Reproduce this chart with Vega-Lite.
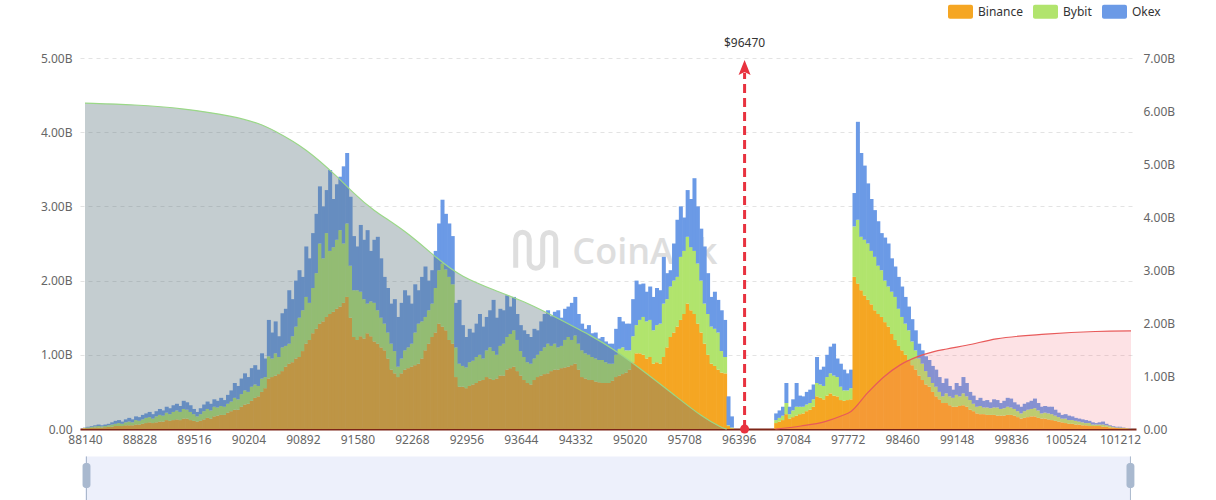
{
"$schema":"https://vega.github.io/schema/vega-lite/v6.json",
"width":1056,"height":371,"autosize":"none",
"padding":{"left":80,"top":58,"right":80,"bottom":71},
"background":"white",
"config":{"view":{"stroke":null},"font":"Noto Sans","axis":{"labelFont":"Noto Sans","labelFontSize":12,"labelColor":"#666"}},
"data":{"values":[{}]},
"datasets":{
"bars":[
{"p":88140,"a":0.01,"b":0.005,"c":0.005},{"p":88183,"a":0.01,"b":0.01,"c":0.01},{"p":88226,"a":0.015,"b":0.015,"c":0.01},{"p":88269,"a":0.02,"b":0.015,"c":0.015},{"p":88312,"a":0.02,"b":0.02,"c":0.02},{"p":88355,"a":0.02,"b":0.015,"c":0.015},{"p":88398,"a":0.025,"b":0.015,"c":0.02},{"p":88441,"a":0.03,"b":0.02,"c":0.02},{"p":88484,"a":0.03,"b":0.03,"c":0.03},{"p":88527,"a":0.04,"b":0.03,"c":0.04},
{"p":88570,"a":0.04,"b":0.04,"c":0.04},{"p":88613,"a":0.04,"b":0.03,"c":0.03},{"p":88656,"a":0.05,"b":0.04,"c":0.04},{"p":88699,"a":0.05,"b":0.05,"c":0.05},{"p":88742,"a":0.05,"b":0.04,"c":0.04},{"p":88785,"a":0.06,"b":0.06,"c":0.05},{"p":88828,"a":0.06,"b":0.05,"c":0.05},{"p":88871,"a":0.07,"b":0.06,"c":0.06},{"p":88914,"a":0.08,"b":0.07,"c":0.06},{"p":88957,"a":0.09,"b":0.07,"c":0.07},
{"p":89000,"a":0.08,"b":0.06,"c":0.06},{"p":89043,"a":0.09,"b":0.08,"c":0.07},{"p":89086,"a":0.10,"b":0.09,"c":0.08},{"p":89129,"a":0.10,"b":0.08,"c":0.07},{"p":89172,"a":0.12,"b":0.10,"c":0.08},{"p":89215,"a":0.11,"b":0.09,"c":0.08},{"p":89258,"a":0.12,"b":0.11,"c":0.09},{"p":89301,"a":0.13,"b":0.12,"c":0.09},{"p":89344,"a":0.12,"b":0.11,"c":0.08},{"p":89387,"a":0.14,"b":0.13,"c":0.11},
{"p":89430,"a":0.14,"b":0.12,"c":0.10},{"p":89473,"a":0.12,"b":0.11,"c":0.09},{"p":89516,"a":0.11,"b":0.09,"c":0.07},{"p":89559,"a":0.10,"b":0.07,"c":0.06},{"p":89602,"a":0.11,"b":0.09,"c":0.08},{"p":89645,"a":0.13,"b":0.11,"c":0.09},{"p":89688,"a":0.15,"b":0.12,"c":0.10},{"p":89731,"a":0.14,"b":0.11,"c":0.09},{"p":89774,"a":0.17,"b":0.13,"c":0.10},{"p":89817,"a":0.18,"b":0.11,"c":0.09},
{"p":89860,"a":0.19,"b":0.12,"c":0.11},{"p":89903,"a":0.19,"b":0.11,"c":0.09},{"p":89946,"a":0.22,"b":0.12,"c":0.12},{"p":89989,"a":0.24,"b":0.13,"c":0.15},{"p":90032,"a":0.26,"b":0.16,"c":0.20},{"p":90075,"a":0.26,"b":0.14,"c":0.18},{"p":90118,"a":0.30,"b":0.17,"c":0.21},{"p":90161,"a":0.33,"b":0.19,"c":0.23},{"p":90204,"a":0.34,"b":0.16,"c":0.20},{"p":90247,"a":0.38,"b":0.19,"c":0.25},
{"p":90290,"a":0.42,"b":0.18,"c":0.26},{"p":90333,"a":0.44,"b":0.14,"c":0.22},{"p":90376,"a":0.50,"b":0.18,"c":0.34},{"p":90419,"a":0.55,"b":0.15,"c":0.25},{"p":90462,"a":0.68,"b":0.30,"c":0.49},{"p":90505,"a":0.70,"b":0.25,"c":0.35},{"p":90548,"a":0.72,"b":0.30,"c":0.43},{"p":90591,"a":0.74,"b":0.23,"c":0.28},{"p":90634,"a":0.78,"b":0.32,"c":0.46},{"p":90677,"a":0.84,"b":0.28,"c":0.50},
{"p":90720,"a":0.88,"b":0.27,"c":0.72},{"p":90763,"a":0.90,"b":0.35,"c":0.50},{"p":90806,"a":0.95,"b":0.43,"c":0.62},{"p":90849,"a":0.97,"b":0.53,"c":0.64},{"p":90892,"a":1.05,"b":0.55,"c":0.45},{"p":90935,"a":1.15,"b":0.63,"c":0.68},{"p":90978,"a":1.20,"b":0.50,"c":0.60},{"p":91021,"a":1.29,"b":0.61,"c":0.74},{"p":91064,"a":1.35,"b":0.75,"c":0.80},{"p":91107,"a":1.42,"b":1.08,"c":0.77},
{"p":91150,"a":1.45,"b":0.85,"c":0.70},{"p":91193,"a":1.51,"b":1.13,"c":0.58},{"p":91236,"a":1.55,"b":0.85,"c":1.09},{"p":91279,"a":1.58,"b":0.87,"c":0.65},{"p":91322,"a":1.62,"b":0.93,"c":0.75},{"p":91365,"a":1.65,"b":1.03,"c":0.72},{"p":91408,"a":1.70,"b":0.80,"c":1.04},{"p":91451,"a":1.78,"b":0.99,"c":0.95},{"p":91494,"a":1.50,"b":0.70,"c":0.93},{"p":91537,"a":1.24,"b":0.63,"c":0.73},
{"p":91580,"a":1.20,"b":0.67,"c":0.59},{"p":91623,"a":1.25,"b":0.60,"c":0.90},{"p":91666,"a":1.22,"b":0.53,"c":0.80},{"p":91709,"a":1.29,"b":0.40,"c":0.99},{"p":91752,"a":1.25,"b":0.47,"c":0.68},{"p":91795,"a":1.18,"b":0.52,"c":0.85},{"p":91838,"a":1.15,"b":0.45,"c":0.99},{"p":91881,"a":1.10,"b":0.40,"c":0.80},{"p":91924,"a":1.06,"b":0.36,"c":0.63},{"p":91967,"a":0.95,"b":0.35,"c":0.60},
{"p":92010,"a":0.80,"b":0.35,"c":0.54},{"p":92053,"a":0.75,"b":0.30,"c":0.70},{"p":92096,"a":0.70,"b":0.14,"c":0.67},{"p":92139,"a":0.75,"b":0.20,"c":0.75},{"p":92182,"a":0.80,"b":0.26,"c":0.81},{"p":92225,"a":0.82,"b":0.28,"c":0.70},{"p":92268,"a":0.84,"b":0.31,"c":0.54},{"p":92311,"a":0.86,"b":0.44,"c":0.65},{"p":92354,"a":0.88,"b":0.54,"c":0.45},{"p":92397,"a":0.95,"b":0.50,"c":0.60},
{"p":92440,"a":1.06,"b":0.45,"c":0.68},{"p":92483,"a":1.15,"b":0.45,"c":0.40},{"p":92526,"a":1.24,"b":0.45,"c":0.45},{"p":92569,"a":1.30,"b":0.60,"c":0.50},{"p":92612,"a":1.42,"b":0.72,"c":0.63},{"p":92655,"a":1.38,"b":0.85,"c":0.86},{"p":92698,"a":1.33,"b":0.82,"c":0.75},{"p":92741,"a":1.20,"b":0.85,"c":0.72},{"p":92784,"a":1.15,"b":0.80,"c":0.65},{"p":92827,"a":0.70,"b":0.40,"c":0.60},
{"p":92870,"a":0.57,"b":0.31,"c":0.86},{"p":92913,"a":0.57,"b":0.28,"c":0.55},{"p":92956,"a":0.55,"b":0.28,"c":0.41},{"p":92999,"a":0.58,"b":0.32,"c":0.45},{"p":93042,"a":0.60,"b":0.32,"c":0.38},{"p":93085,"a":0.62,"b":0.35,"c":0.45},{"p":93128,"a":0.65,"b":0.35,"c":0.55},{"p":93171,"a":0.66,"b":0.29,"c":0.43},{"p":93214,"a":0.70,"b":0.36,"c":0.45},{"p":93257,"a":0.68,"b":0.42,"c":0.50},
{"p":93300,"a":0.66,"b":0.39,"c":0.69},{"p":93343,"a":0.68,"b":0.32,"c":0.50},{"p":93386,"a":0.72,"b":0.40,"c":0.50},{"p":93429,"a":0.72,"b":0.43,"c":0.45},{"p":93472,"a":0.80,"b":0.44,"c":0.56},{"p":93515,"a":0.82,"b":0.46,"c":0.37},{"p":93558,"a":0.84,"b":0.49,"c":0.45},{"p":93601,"a":0.78,"b":0.42,"c":0.35},{"p":93644,"a":0.72,"b":0.33,"c":0.35},{"p":93687,"a":0.66,"b":0.31,"c":0.36},
{"p":93730,"a":0.62,"b":0.28,"c":0.38},{"p":93773,"a":0.60,"b":0.28,"c":0.36},{"p":93816,"a":0.66,"b":0.29,"c":0.40},{"p":93859,"a":0.70,"b":0.30,"c":0.33},{"p":93902,"a":0.72,"b":0.33,"c":0.40},{"p":93945,"a":0.74,"b":0.36,"c":0.45},{"p":93988,"a":0.75,"b":0.40,"c":0.45},{"p":94031,"a":0.78,"b":0.34,"c":0.40},{"p":94074,"a":0.80,"b":0.35,"c":0.43},{"p":94117,"a":0.80,"b":0.30,"c":0.50},
{"p":94160,"a":0.82,"b":0.30,"c":0.38},{"p":94203,"a":0.83,"b":0.37,"c":0.42},{"p":94246,"a":0.84,"b":0.40,"c":0.41},{"p":94289,"a":0.86,"b":0.34,"c":0.50},{"p":94332,"a":0.88,"b":0.38,"c":0.52},{"p":94375,"a":0.80,"b":0.35,"c":0.40},{"p":94418,"a":0.70,"b":0.36,"c":0.36},{"p":94461,"a":0.68,"b":0.34,"c":0.33},{"p":94504,"a":0.66,"b":0.34,"c":0.40},{"p":94547,"a":0.66,"b":0.31,"c":0.32},
{"p":94590,"a":0.64,"b":0.31,"c":0.35},{"p":94633,"a":0.63,"b":0.30,"c":0.29},{"p":94676,"a":0.62,"b":0.31,"c":0.31},{"p":94719,"a":0.62,"b":0.28,"c":0.28},{"p":94762,"a":0.62,"b":0.26,"c":0.27},{"p":94805,"a":0.65,"b":0.23,"c":0.27},{"p":94848,"a":0.70,"b":0.30,"c":0.35},{"p":94891,"a":0.72,"b":0.36,"c":0.43},{"p":94934,"a":0.74,"b":0.36,"c":0.35},{"p":94977,"a":0.76,"b":0.30,"c":0.36},
{"p":95020,"a":0.80,"b":0.26,"c":0.36},{"p":95063,"a":0.90,"b":0.35,"c":0.50},{"p":95106,"a":1.02,"b":0.38,"c":0.60},{"p":95149,"a":1.02,"b":0.45,"c":0.48},{"p":95192,"a":1.00,"b":0.51,"c":0.45},{"p":95235,"a":0.95,"b":0.50,"c":0.40},{"p":95278,"a":0.97,"b":0.50,"c":0.45},{"p":95321,"a":0.88,"b":0.45,"c":0.45},{"p":95364,"a":0.90,"b":0.50,"c":0.50},{"p":95407,"a":0.88,"b":0.54,"c":0.45},
{"p":95450,"a":0.97,"b":0.72,"c":0.63},{"p":95493,"a":1.10,"b":0.65,"c":0.35},{"p":95536,"a":1.24,"b":0.68,"c":0.22},{"p":95579,"a":1.30,"b":0.70,"c":0.50},{"p":95622,"a":1.38,"b":0.67,"c":0.77},{"p":95665,"a":1.47,"b":0.85,"c":0.68},{"p":95708,"a":1.55,"b":0.85,"c":0.45},{"p":95751,"a":1.69,"b":0.90,"c":0.63},{"p":95794,"a":1.60,"b":0.85,"c":0.65},{"p":95837,"a":1.55,"b":0.85,"c":0.98},
{"p":95880,"a":1.42,"b":0.81,"c":0.77},{"p":95923,"a":1.30,"b":0.70,"c":0.70},{"p":95966,"a":1.15,"b":0.54,"c":0.77},{"p":96009,"a":1.00,"b":0.55,"c":0.55},{"p":96052,"a":0.88,"b":0.50,"c":0.40},{"p":96095,"a":0.85,"b":0.50,"c":0.50},{"p":96138,"a":0.80,"b":0.50,"c":0.44},{"p":96181,"a":0.76,"b":0.29,"c":0.55},{"p":96224,"a":0.75,"b":0.22,"c":0.50},{"p":96267,"a":0.04,"b":0.01,"c":0.39},
{"p":96310,"a":0.01,"b":0.01,"c":0.15},
{"p":96869,"a":0.08,"b":0.04,"c":0.09},{"p":96912,"a":0.10,"b":0.05,"c":0.10},{"p":96955,"a":0.12,"b":0.06,"c":0.12},{"p":96998,"a":0.20,"b":0.15,"c":0.27},{"p":97041,"a":0.14,"b":0.06,"c":0.10},{"p":97084,"a":0.16,"b":0.09,"c":0.15},{"p":97127,"a":0.18,"b":0.12,"c":0.32},{"p":97170,"a":0.20,"b":0.10,"c":0.15},{"p":97213,"a":0.21,"b":0.09,"c":0.14},{"p":97256,"a":0.24,"b":0.09,"c":0.17},
{"p":97299,"a":0.26,"b":0.09,"c":0.18},{"p":97342,"a":0.30,"b":0.10,"c":0.20},{"p":97385,"a":0.44,"b":0.18,"c":0.35},{"p":97428,"a":0.42,"b":0.18,"c":0.20},{"p":97471,"a":0.40,"b":0.18,"c":0.26},{"p":97514,"a":0.45,"b":0.25,"c":0.30},{"p":97557,"a":0.48,"b":0.27,"c":0.36},{"p":97600,"a":0.45,"b":0.27,"c":0.43},{"p":97643,"a":0.44,"b":0.26,"c":0.25},{"p":97686,"a":0.39,"b":0.18,"c":0.31},
{"p":97729,"a":0.38,"b":0.14,"c":0.28},{"p":97772,"a":0.39,"b":0.13,"c":0.23},{"p":97815,"a":0.40,"b":0.15,"c":0.25},{"p":97858,"a":2.05,"b":0.68,"c":0.45},{"p":97901,"a":1.96,"b":0.86,"c":1.32},{"p":97944,"a":1.87,"b":0.72,"c":1.13},{"p":97987,"a":1.80,"b":0.75,"c":1.00},{"p":98030,"a":1.74,"b":0.76,"c":0.81},{"p":98073,"a":1.68,"b":0.72,"c":0.70},{"p":98116,"a":1.60,"b":0.72,"c":0.63},
{"p":98159,"a":1.55,"b":0.65,"c":0.60},{"p":98202,"a":1.51,"b":0.63,"c":0.50},{"p":98245,"a":1.44,"b":0.56,"c":0.58},{"p":98288,"a":1.38,"b":0.54,"c":0.58},{"p":98331,"a":1.28,"b":0.57,"c":0.45},{"p":98374,"a":1.20,"b":0.58,"c":0.41},{"p":98417,"a":1.12,"b":0.50,"c":0.43},{"p":98460,"a":1.06,"b":0.45,"c":0.41},{"p":98503,"a":1.00,"b":0.42,"c":0.36},{"p":98546,"a":0.93,"b":0.40,"c":0.32},
{"p":98589,"a":0.86,"b":0.32,"c":0.30},{"p":98632,"a":0.80,"b":0.26,"c":0.27},{"p":98675,"a":0.72,"b":0.23,"c":0.20},{"p":98718,"a":0.66,"b":0.22,"c":0.18},{"p":98761,"a":0.60,"b":0.18,"c":0.20},{"p":98804,"a":0.57,"b":0.13,"c":0.23},{"p":98847,"a":0.50,"b":0.12,"c":0.23},{"p":98890,"a":0.44,"b":0.13,"c":0.23},{"p":98933,"a":0.40,"b":0.10,"c":0.20},{"p":98976,"a":0.35,"b":0.09,"c":0.18},
{"p":99019,"a":0.35,"b":0.13,"c":0.20},{"p":99062,"a":0.32,"b":0.12,"c":0.14},{"p":99105,"a":0.30,"b":0.12,"c":0.11},{"p":99148,"a":0.30,"b":0.16,"c":0.16},{"p":99191,"a":0.31,"b":0.13,"c":0.14},{"p":99234,"a":0.32,"b":0.16,"c":0.22},{"p":99277,"a":0.30,"b":0.14,"c":0.18},{"p":99320,"a":0.26,"b":0.13,"c":0.11},{"p":99363,"a":0.24,"b":0.10,"c":0.11},{"p":99406,"a":0.21,"b":0.09,"c":0.09},
{"p":99449,"a":0.20,"b":0.11,"c":0.11},{"p":99492,"a":0.20,"b":0.09,"c":0.09},{"p":99535,"a":0.19,"b":0.10,"c":0.10},{"p":99578,"a":0.19,"b":0.09,"c":0.08},{"p":99621,"a":0.19,"b":0.10,"c":0.11},{"p":99664,"a":0.18,"b":0.11,"c":0.10},{"p":99707,"a":0.18,"b":0.09,"c":0.08},{"p":99750,"a":0.18,"b":0.10,"c":0.10},{"p":99793,"a":0.19,"b":0.11,"c":0.12},{"p":99836,"a":0.19,"b":0.10,"c":0.12},
{"p":99879,"a":0.18,"b":0.09,"c":0.09},{"p":99922,"a":0.16,"b":0.08,"c":0.09},{"p":99965,"a":0.14,"b":0.07,"c":0.09},{"p":100008,"a":0.15,"b":0.09,"c":0.10},{"p":100051,"a":0.16,"b":0.10,"c":0.10},{"p":100094,"a":0.17,"b":0.10,"c":0.11},{"p":100137,"a":0.17,"b":0.11,"c":0.13},{"p":100180,"a":0.15,"b":0.10,"c":0.10},{"p":100223,"a":0.14,"b":0.07,"c":0.09},{"p":100266,"a":0.14,"b":0.08,"c":0.09},
{"p":100309,"a":0.13,"b":0.08,"c":0.09},{"p":100352,"a":0.12,"b":0.08,"c":0.10},{"p":100395,"a":0.11,"b":0.07,"c":0.08},{"p":100438,"a":0.10,"b":0.06,"c":0.06},{"p":100481,"a":0.09,"b":0.05,"c":0.05},{"p":100524,"a":0.08,"b":0.06,"c":0.06},{"p":100567,"a":0.07,"b":0.05,"c":0.06},{"p":100610,"a":0.07,"b":0.05,"c":0.05},{"p":100653,"a":0.06,"b":0.05,"c":0.04},{"p":100696,"a":0.06,"b":0.04,"c":0.04},
{"p":100739,"a":0.05,"b":0.04,"c":0.04},{"p":100782,"a":0.05,"b":0.03,"c":0.04},{"p":100825,"a":0.04,"b":0.04,"c":0.03},{"p":100868,"a":0.04,"b":0.02,"c":0.03},{"p":100911,"a":0.04,"b":0.02,"c":0.02},{"p":100954,"a":0.04,"b":0.02,"c":0.03},{"p":100997,"a":0.03,"b":0.03,"c":0.04},{"p":101040,"a":0.03,"b":0.02,"c":0.02},{"p":101083,"a":0.02,"b":0.02,"c":0.01},{"p":101126,"a":0.02,"b":0.01,"c":0.01},
{"p":101169,"a":0.015,"b":0.005,"c":0.01},{"p":101212,"a":0.01,"b":0.01,"c":0.01},{"p":101255,"a":0.01,"b":0.005,"c":0.005},{"p":101298,"a":0.005,"b":0.005,"c":0},{"p":101341,"a":0.003,"b":0.002,"c":0.005}
],
"grey":[{"p":88140,"v":6.15},{"p":88765,"v":6.12},{"p":89391,"v":6.05},{"p":90016,"v":5.9},{"p":90354,"v":5.76},{"p":90517,"v":5.64},{"p":90930,"v":5.3},{"p":91355,"v":4.72},{"p":91518,"v":4.47},{"p":91768,"v":4.13},{"p":92181,"v":3.75},{"p":92606,"v":3.19},{"p":92894,"v":2.87},{"p":93306,"v":2.62},{"p":93732,"v":2.38},{"p":94145,"v":2.06},{"p":94557,"v":1.74},{"p":94770,"v":1.55},{"p":95183,"v":1.11},{"p":95608,"v":0.61},{"p":95933,"v":0.23},{"p":96183,"v":0.02},{"p":96246,"v":0}],
"pink":[{"p":96859,"v":0},{"p":97184,"v":0.057},{"p":97485,"v":0.14},{"p":97689,"v":0.245},{"p":97814,"v":0.33},{"p":98023,"v":0.68},{"p":98235,"v":0.99},{"p":98436,"v":1.21},{"p":98648,"v":1.36},{"p":98861,"v":1.46},{"p":99023,"v":1.51},{"p":99273,"v":1.58},{"p":99649,"v":1.70},{"p":100274,"v":1.79},{"p":100900,"v":1.84},{"p":101350,"v":1.85}]
},
"layer":[
{"mark":{"type":"rect","color":"#edf0fb"},
 "encoding":{"x":{"datum":88140,"type":"quantitative","scale":{"domain":[88140,101350],"nice":false,"zero":false}},"x2":{"datum":101350},
 "y":{"datum":-0.37,"type":"quantitative","scale":{"domain":[0,5],"nice":false},"axis":null},"y2":{"datum":-0.96}}},
{"mark":{"type":"rule","color":"#aab8cc","strokeWidth":1},
 "encoding":{"x":{"datum":88159,"type":"quantitative","scale":{"domain":[88140,101350],"nice":false,"zero":false}},"y":{"datum":-0.37,"type":"quantitative","scale":{"domain":[0,5],"nice":false},"axis":null},"y2":{"datum":-0.96}}},
{"mark":{"type":"rule","color":"#aab8cc","strokeWidth":1},
 "encoding":{"x":{"datum":101343,"type":"quantitative","scale":{"domain":[88140,101350],"nice":false,"zero":false}},"y":{"datum":-0.37,"type":"quantitative","scale":{"domain":[0,5],"nice":false},"axis":null},"y2":{"datum":-0.96}}},
{"mark":{"type":"rect","color":"#a9b9cf","cornerRadius":3},
 "encoding":{"x":{"datum":88109,"type":"quantitative","scale":{"domain":[88140,101350],"nice":false,"zero":false}},"x2":{"datum":88209},"y":{"datum":-0.458,"type":"quantitative","scale":{"domain":[0,5],"nice":false},"axis":null},"y2":{"datum":-0.795}}},
{"mark":{"type":"rect","color":"#a9b9cf","cornerRadius":3},
 "encoding":{"x":{"datum":101293,"type":"quantitative","scale":{"domain":[88140,101350],"nice":false,"zero":false}},"x2":{"datum":101393},"y":{"datum":-0.458,"type":"quantitative","scale":{"domain":[0,5],"nice":false},"axis":null},"y2":{"datum":-0.795}}},
{"mark":{"type":"point","shape":"M-0.8,0.7V-0.45A0.27,0.27 0 0 1 -0.26,-0.45V0.45A0.27,0.27 0 0 0 0.28,0.45V-0.45A0.26,0.26 0 0 1 0.8,-0.45V0.7","filled":false,"stroke":"#dedede","strokeWidth":5,"size":2500,"opacity":1},
 "encoding":{"x":{"datum":93832,"type":"quantitative","scale":{"domain":[88140,101350],"nice":false,"zero":false}},"y":{"datum":2.41,"type":"quantitative","scale":{"domain":[0,5],"nice":false},"axis":null}}},
{"mark":{"type":"text","text":"CoinAnk","font":"Open Sans","fontSize":36,"fontWeight":600,"color":"#dedede","align":"left","baseline":"alphabetic"},
 "encoding":{"x":{"datum":94295,"type":"quantitative","scale":{"domain":[88140,101350],"nice":false,"zero":false}},"y":{"datum":2.224,"type":"quantitative","scale":{"domain":[0,5],"nice":false},"axis":null}}},
{"data":{"name":"bars"},
 "transform":[{"fold":["a","b","c"],"as":["ex","v"]}],
 "mark":{"type":"bar","size":4,"clip":true},
 "encoding":{
  "x":{"field":"p","type":"quantitative","scale":{"domain":[88140,101350],"nice":false,"zero":false},
   "axis":{"title":null,"values":[88140,88828,89516,90204,90892,91580,92268,92956,93644,94332,95020,95708,96396,97084,97772,98460,99148,99836,100524,101212],"format":"d","ticks":false,"grid":false,"domainColor":"#7d2517","domainWidth":2,"labelPadding":5,"labelFlush":false,"labelOverlap":false,"labelColor":"#666","labelFontSize":12}},
  "y":{"field":"v","type":"quantitative","stack":"zero","scale":{"domain":[0,5],"nice":false},
   "axis":{"title":null,"values":[0,1,2,3,4,5],"domain":false,"ticks":false,"grid":true,"gridDash":[4,4],"gridColor":"#e3e3e3","labelPadding":8,"labelExpr":"datum.value==0?'0.00':format(datum.value,'.2f')+'B'"}},
  "order":{"field":"ex","type":"nominal","sort":"ascending"},
  "color":{"field":"ex","type":"nominal","scale":{"domain":["a","b","c"],"range":["#F5A623","#B1E46D","#6B9AE6"]},
   "legend":{"orient":"none","legendX":868,"legendY":-59,"direction":"horizontal","title":null,"labelExpr":"datum.label=='a'?'Binance':datum.label=='b'?'Bybit':'Okex'","labelFontSize":12,"labelColor":"#333","labelFont":"Noto Sans","symbolType":"M-0.84,-0.56H0.84A0.16,0.16 0 0 1 1,-0.4V0.4A0.16,0.16 0 0 1 0.84,0.56H-0.84A0.16,0.16 0 0 1 -1,0.4V-0.4A0.16,0.16 0 0 1 -0.84,-0.56Z","symbolSize":625,"symbolStrokeWidth":0,"symbolOpacity":1,"labelOffset":5,"columnPadding":10}}
 }},
{"data":{"name":"grey"},
 "mark":{"type":"area","interpolate":"basis","color":"#5f7780","opacity":0.37,"line":{"color":"#9ad887","strokeWidth":1.2}},
 "encoding":{"x":{"field":"p","type":"quantitative","scale":{"domain":[88140,101350],"nice":false,"zero":false}},
  "y":{"field":"v","type":"quantitative","scale":{"domain":[0,7],"nice":false},
   "axis":{"orient":"right","title":null,"values":[0,1,2,3,4,5,6,7],"domain":false,"ticks":false,"grid":false,"labelPadding":7,"labelExpr":"datum.value==0?'0.00':format(datum.value,'.2f')+'B'"}}}},
{"data":{"name":"pink"},
 "mark":{"type":"area","interpolate":"monotone","color":"#f56c7b","opacity":0.2,"line":{"color":"#e85a5a","strokeWidth":1.2,"opacity":1}},
 "encoding":{"x":{"field":"p","type":"quantitative","scale":{"domain":[88140,101350],"nice":false,"zero":false}},
  "y":{"field":"v","type":"quantitative","scale":{"domain":[0,7],"nice":false},"axis":null}}},
{"mark":{"type":"rule","color":"#e8323f","strokeWidth":3,"strokeDash":[9,5]},
 "encoding":{"x":{"datum":96470,"type":"quantitative","scale":{"domain":[88140,101350],"nice":false,"zero":false}},"y":{"datum":0,"type":"quantitative","scale":{"domain":[0,5],"nice":false},"axis":null},"y2":{"datum":4.8}}},
{"mark":{"type":"point","shape":"M0,-1L0.8,1L0,0.6L-0.8,1Z","filled":true,"color":"#e8323f","size":225,"opacity":1},
 "encoding":{"x":{"datum":96470,"type":"quantitative","scale":{"domain":[88140,101350],"nice":false,"zero":false}},"y":{"datum":4.872,"type":"quantitative","scale":{"domain":[0,5],"nice":false},"axis":null}}},
{"mark":{"type":"point","shape":"circle","filled":true,"color":"#e8323f","size":80,"opacity":1},
 "encoding":{"x":{"datum":96470,"type":"quantitative","scale":{"domain":[88140,101350],"nice":false,"zero":false}},"y":{"datum":0,"type":"quantitative","scale":{"domain":[0,5],"nice":false},"axis":null}}},
{"mark":{"type":"text","text":"$96470","fontSize":12,"color":"#333","font":"Noto Sans","align":"center","baseline":"middle"},
 "encoding":{"x":{"datum":96470,"type":"quantitative","scale":{"domain":[88140,101350],"nice":false,"zero":false}},"y":{"datum":5.2,"type":"quantitative","scale":{"domain":[0,5],"nice":false},"axis":null}}}
],
"resolve":{"scale":{"y":"independent"}}
}
